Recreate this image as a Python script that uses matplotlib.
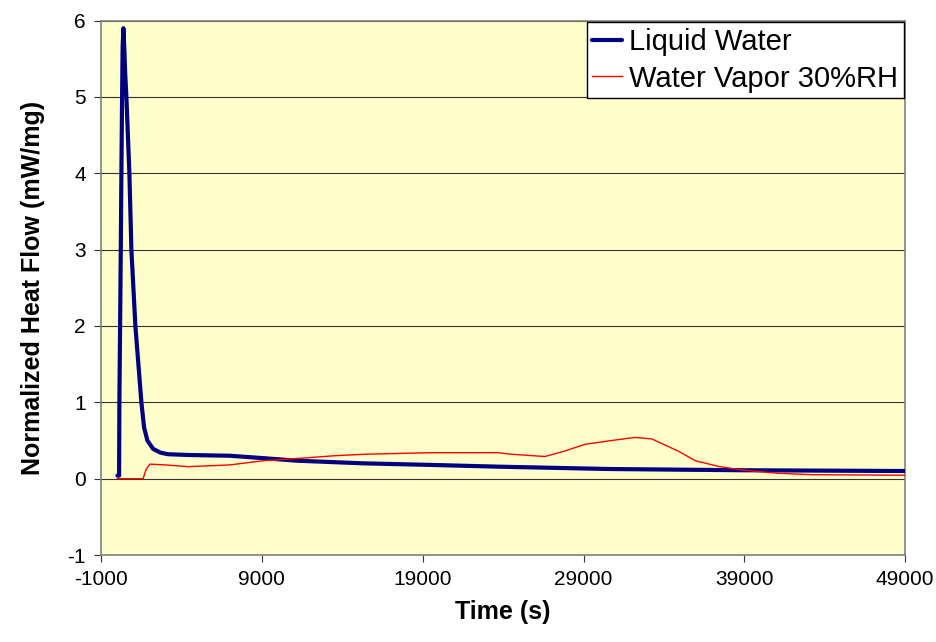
import numpy as np
import matplotlib
matplotlib.use('Agg')
import matplotlib.pyplot as plt

plt.rcParams['font.family'] = ['Liberation Sans', 'DejaVu Sans']
plt.rcParams['axes.unicode_minus'] = False

# Liquid water trace (time s, heat flow mW/mg)
liquid_t = [14, 120, 138, 182, 225, 262, 306, 340, 387, 440, 500, 573, 760, 884, 1133,
            1506, 1674, 1879, 2234, 2700, 3167, 4410, 7000, 9000, 11200, 15400, 19500,
            23700, 30700, 39000, 49000]
liquid_y = [0.04, 0.04, 1.0, 2.0, 3.0, 4.0, 5.0, 5.65, 5.9, 5.65, 5.3, 5.0, 4.0, 3.0, 2.0,
            1.0, 0.67, 0.5, 0.39, 0.34, 0.32, 0.31, 0.30, 0.27, 0.235, 0.2, 0.18,
            0.157, 0.126, 0.11, 0.1]

# Water vapor 30%RH trace
vapor_t = [14, 1612, 1800, 2029, 3000, 4410, 7000, 9100, 11600, 13500, 15400, 19500,
           23700, 24500, 26600, 27800, 29100, 30750, 32200, 33250, 34900, 35950, 37400,
           39000, 41150, 43200, 49000]
vapor_y = [0.0, 0.0, 0.12, 0.19, 0.18, 0.157, 0.18, 0.235, 0.27, 0.3, 0.32, 0.34,
           0.34, 0.32, 0.29, 0.36, 0.45, 0.5, 0.54, 0.52, 0.36, 0.235, 0.16,
           0.11, 0.07, 0.052, 0.045]

xticks = np.arange(-1000, 49001, 10000)
yticks = np.arange(-1, 7, 1)

fig = plt.figure(figsize=(9.36, 6.42), dpi=100)
ax = fig.add_axes([0.108, 0.1355, 0.859, 0.8325])
ax.set_facecolor('#FFFFCC')

ax.plot(liquid_t, liquid_y, color='#000080', lw=3, label='Liquid Water', zorder=3,
        solid_joinstyle='round', solid_capstyle='round')
ax.plot(vapor_t, vapor_y, color='#FF0000', lw=1, label='Water Vapor 30%RH', zorder=4)

ax.set_xlim(-1000, 49000)
ax.set_ylim(-1, 6)
ax.set_xticks(xticks)
ax.set_yticks(yticks)
ax.yaxis.grid(True, color='#333333', lw=0.8)
ax.set_axisbelow(True)
for s in ax.spines.values():
    s.set_color('#808080')
    s.set_linewidth(1.2)
ax.tick_params(direction='out', length=5, labelsize=15, color='#333333', pad=6)

ax.set_xlabel('Time (s)', fontsize=18, fontweight='bold', labelpad=8)
ax.set_ylabel('Normalized Heat Flow (mW/mg)', fontsize=18, fontweight='bold', labelpad=16)

leg = ax.legend(loc='upper right', fontsize=21, frameon=True, fancybox=False,
                handlelength=1.0, handletextpad=0.25, borderpad=0.2,
                labelspacing=0.3, borderaxespad=0.05)
leg.get_frame().set_edgecolor('black')
leg.get_frame().set_linewidth(1)
leg.get_frame().set_alpha(1)

plt.savefig('out.png', dpi=100)
